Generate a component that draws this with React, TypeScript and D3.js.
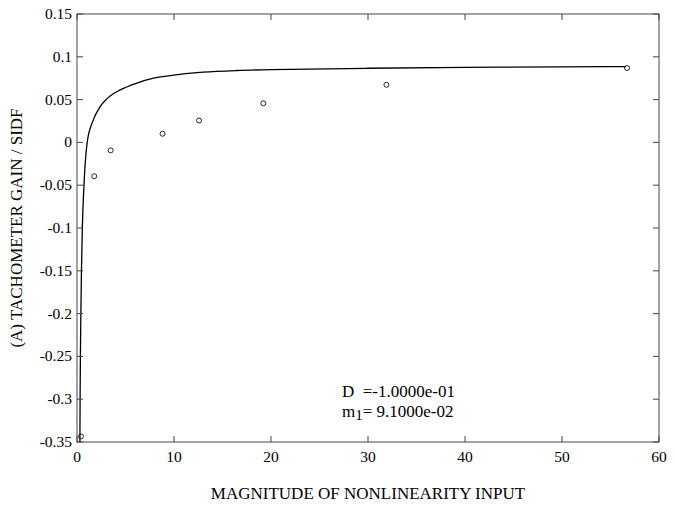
import React from "react";
import * as d3 from "d3";

const xTicks = [0, 10, 20, 30, 40, 50, 60];
const yTicks = [-0.35, -0.3, -0.25, -0.2, -0.15, -0.1, -0.05, 0, 0.05, 0.1, 0.15];
const yTickLabels = ["-0.35", "-0.3", "-0.25", "-0.2", "-0.15", "-0.1", "-0.05", "0", "0.05", "0.1", "0.15"];

const pointX = [0.41, 1.78, 3.47, 8.82, 12.58, 19.21, 31.9, 56.7];
const pointY = [-0.3435, -0.0395, -0.0093, 0.0101, 0.0256, 0.0457, 0.0673, 0.0869];

const curveX = [0.3, 0.32, 0.35, 0.4, 0.46, 0.55, 0.72, 1.05, 1.6, 2.4, 3.0, 3.7, 4.4, 6.1, 7.9, 9.6, 13, 16.5, 20, 30, 40, 50, 56.6];
const curveY = [-0.35, -0.3, -0.25, -0.2, -0.15, -0.1, -0.05, 0.0, 0.024, 0.042, 0.05, 0.0565, 0.061, 0.069, 0.075, 0.078, 0.082, 0.084, 0.085, 0.0866, 0.0876, 0.0882, 0.0885];

const xLabel = "MAGNITUDE OF NONLINEARITY INPUT";
const yLabel = "(A) TACHOMETER GAIN / SIDF";
const annD = "D  =-1.0000e-01";
const annM = "= 9.1000e-02";

export default function App() {
  const W = 675, H = 506;
  const L = 77, R = 659, T = 14, B = 442;
  const x = d3.scaleLinear().domain([0, 60]).range([L, R]);
  const y = d3.scaleLinear().domain([-0.35, 0.15]).range([B, T]);
  const line = d3.line<number>()
    .x((_, i) => x(curveX[i]))
    .y((_, i) => y(curveY[i]))
    .curve(d3.curveMonotoneX);
  const font = "'Liberation Serif', 'Times New Roman', serif";
  const axisColor = "#444";
  const tl = 6;
  return (
    <svg width={W} height={H} style={{ position: "absolute", left: 0, top: 0 }} fontFamily={font}>
      <rect x={0} y={0} width={W} height={H} fill="#fff" />
      <path d={line(curveX.map((_, i) => i)) || ""} fill="none" stroke="#000" strokeWidth={1.3} />
      {pointX.map((px, i) => (
        <circle key={i} cx={x(px)} cy={y(pointY[i])} r={2.5} fill="none" stroke="#111" strokeWidth={0.9} />
      ))}
      <rect x={L} y={T} width={R - L} height={B - T} fill="none" stroke={axisColor} strokeWidth={1} />
      {xTicks.map((t) => (
        <g key={"x" + t}>
          <line x1={x(t)} x2={x(t)} y1={B} y2={B - tl} stroke={axisColor} />
          <line x1={x(t)} x2={x(t)} y1={T} y2={T + tl} stroke={axisColor} />
          <text x={x(t)} y={B + 20} fontSize={15.5} textAnchor="middle" fill="#000">{t}</text>
        </g>
      ))}
      {yTicks.map((t, i) => (
        <g key={"y" + i}>
          <line x1={L} x2={L + tl} y1={y(t)} y2={y(t)} stroke={axisColor} />
          <line x1={R} x2={R - tl} y1={y(t)} y2={y(t)} stroke={axisColor} />
          <text x={L - 5} y={y(t) + 5} fontSize={15.5} textAnchor="end" fill="#000">{yTickLabels[i]}</text>
        </g>
      ))}
      <text x={(L + R) / 2} y={499} fontSize={17} textAnchor="middle" fill="#000">{xLabel}</text>
      <text transform={`translate(22,${(T + B) / 2}) rotate(-90)`} fontSize={17} textAnchor="middle" fill="#000">{yLabel}</text>
      <text x={342} y={397} fontSize={17} fill="#000" style={{ whiteSpace: "pre" }}>{annD}</text>
      <text x={342} y={417} fontSize={17} fill="#000" style={{ whiteSpace: "pre" }}>m<tspan fontSize={15} dy={3}>1</tspan><tspan dy={-3}>{annM}</tspan></text>
    </svg>
  );
}
